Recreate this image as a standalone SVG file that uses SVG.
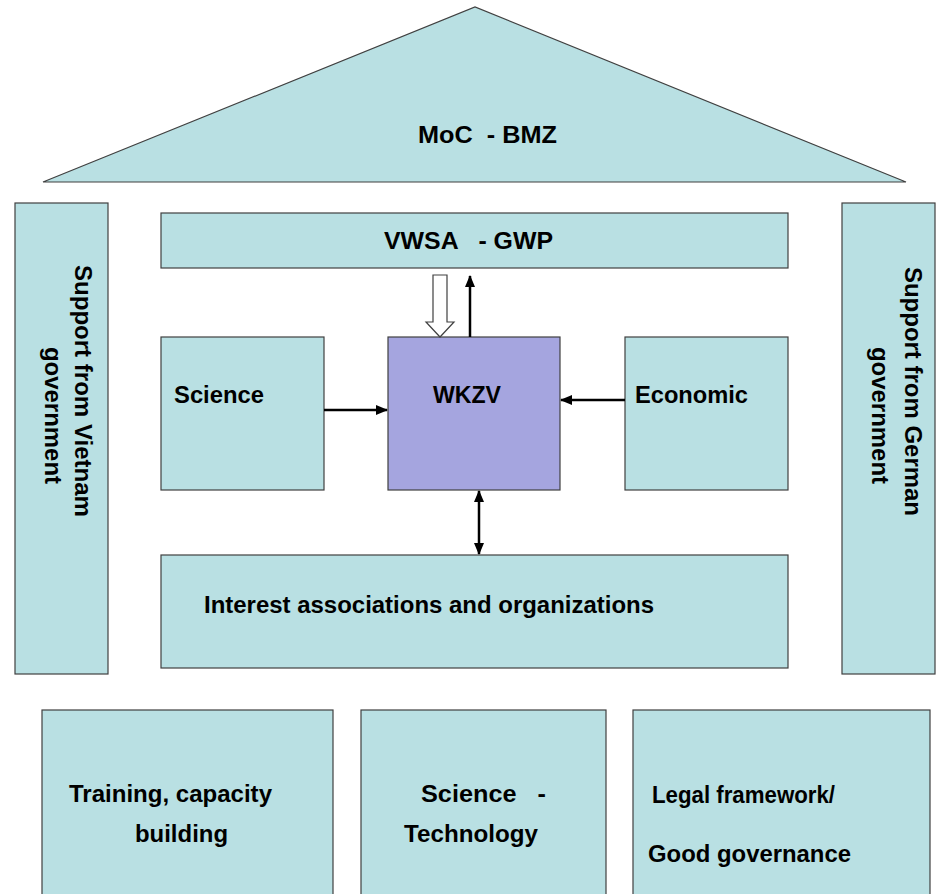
<svg xmlns="http://www.w3.org/2000/svg" width="940" height="894" viewBox="0 0 940 894">
<defs>
<style>
.box{fill:#b9e0e3;stroke:#404040;stroke-width:1.2}
.core{fill:#a5a5df;stroke:#404040;stroke-width:1.2}
.t{font-family:"Liberation Sans",Arial,sans-serif;font-weight:bold;font-size:23px;fill:#000}
.ln{stroke:#000;stroke-width:2.5;fill:none}
</style>
<marker id="ah" viewBox="0 0 12 10" refX="11" refY="5" markerWidth="12" markerHeight="10" markerUnits="userSpaceOnUse" orient="auto-start-reverse">
<path d="M0,0 L12,5 L0,10 Z" fill="#000"/>
</marker>
</defs>
<rect width="940" height="894" fill="#fff"/>
<g id="roof">
<polygon class="box" points="43,182 475,7 906,182"/>
<text class="t" x="418" y="143" textLength="139" lengthAdjust="spacingAndGlyphs" xml:space="preserve">MoC  - BMZ</text>
</g>
<g id="pillar-vietnam">
<rect class="box" x="15" y="203" width="93" height="471"/>
<text class="t" transform="translate(75,265) rotate(90)" textLength="252" lengthAdjust="spacingAndGlyphs">Support from Vietnam</text>
<text class="t" transform="translate(45,347) rotate(90)" textLength="137" lengthAdjust="spacingAndGlyphs">government</text>
</g>
<g id="pillar-german">
<rect class="box" x="842" y="203" width="93" height="471"/>
<text class="t" transform="translate(905,267) rotate(90)" textLength="249" lengthAdjust="spacingAndGlyphs">Support from German</text>
<text class="t" transform="translate(872,347) rotate(90)" textLength="137" lengthAdjust="spacingAndGlyphs">government</text>
</g>
<g id="vwsa">
<rect class="box" x="161" y="213" width="627" height="55"/>
<text class="t" x="384" y="249" textLength="169" lengthAdjust="spacingAndGlyphs" xml:space="preserve">VWSA   - GWP</text>
</g>
<g id="science">
<rect class="box" x="161" y="337" width="163" height="153"/>
<text class="t" x="174" y="403" textLength="90" lengthAdjust="spacingAndGlyphs">Science</text>
</g>
<g id="wkzv">
<rect class="core" x="388" y="337" width="172" height="153"/>
<text class="t" x="433" y="403" textLength="68" lengthAdjust="spacingAndGlyphs">WKZV</text>
</g>
<g id="economic">
<rect class="box" x="625" y="337" width="163" height="153"/>
<text class="t" x="635" y="403" textLength="113" lengthAdjust="spacingAndGlyphs">Economic</text>
</g>
<g id="interest">
<rect class="box" x="161" y="555" width="627" height="113"/>
<text class="t" x="204" y="613" textLength="450" lengthAdjust="spacingAndGlyphs">Interest associations and organizations</text>
</g>
<g id="training">
<rect class="box" x="42" y="710" width="291" height="200"/>
<text class="t" x="69" y="802" textLength="203" lengthAdjust="spacingAndGlyphs">Training, capacity</text>
<text class="t" x="135" y="842" textLength="93" lengthAdjust="spacingAndGlyphs">building</text>
</g>
<g id="scitech">
<rect class="box" x="361" y="710" width="245" height="200"/>
<text class="t" x="421" y="802" textLength="125" lengthAdjust="spacingAndGlyphs" xml:space="preserve">Science   -</text>
<text class="t" x="404" y="842" textLength="134" lengthAdjust="spacingAndGlyphs">Technology</text>
</g>
<g id="legal">
<rect class="box" x="633" y="710" width="297" height="200"/>
<text class="t" x="652" y="803" textLength="183" lengthAdjust="spacingAndGlyphs">Legal framework/</text>
<text class="t" x="648" y="862" textLength="203" lengthAdjust="spacingAndGlyphs">Good governance</text>
</g>
<g id="connectors">
<polygon points="433,275 447,275 447,322 454,322 440,337 426,322 433,322" fill="#fff" stroke="#404040" stroke-width="1.2"/>
<line class="ln" x1="470" y1="337" x2="470" y2="276" marker-end="url(#ah)"/>
<line class="ln" x1="324" y1="410" x2="387" y2="410" marker-end="url(#ah)"/>
<line class="ln" x1="625" y1="400" x2="561" y2="400" marker-end="url(#ah)"/>
<line class="ln" x1="479" y1="491" x2="479" y2="554" marker-start="url(#ah)" marker-end="url(#ah)"/>
</g>
</svg>
